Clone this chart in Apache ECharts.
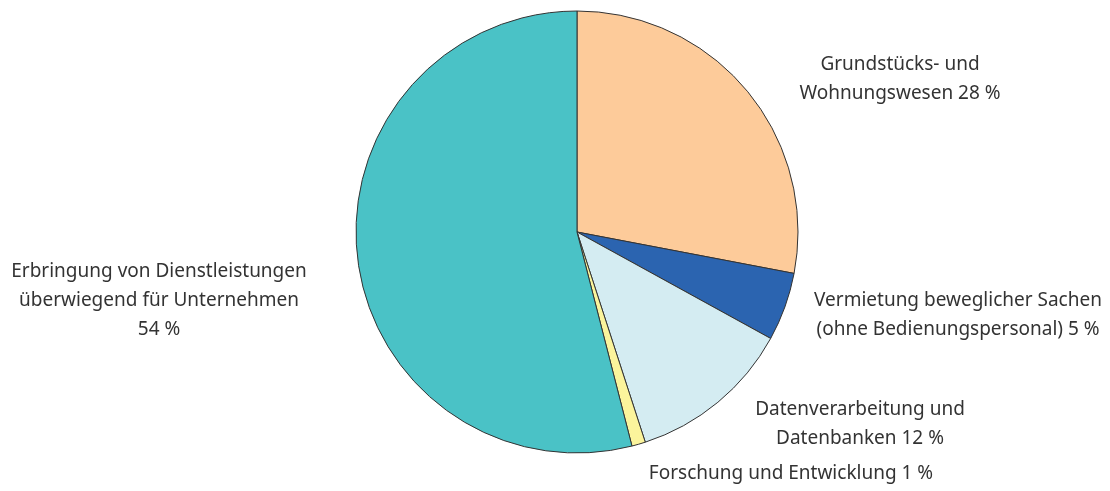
<!DOCTYPE html>
<html>
<head>
<meta charset="utf-8">
<script src="https://cdn.jsdelivr.net/npm/echarts@6/dist/echarts.min.js"></script>
<style>
  html, body { margin: 0; padding: 0; background: #fff; }
  #myChart { width: 1110px; height: 491px; }
</style>
</head>
<body>
<div id="myChart"></div>
<script>
// Anteile in Prozent, im Uhrzeigersinn ab 12 Uhr
var categories = [
  "Grundstücks- und\nWohnungswesen",
  "Vermietung beweglicher Sachen\n(ohne Bedienungspersonal)",
  "Datenverarbeitung und\nDatenbanken",
  "Forschung und Entwicklung",
  "Erbringung von Dienstleistungen\nüberwiegend für Unternehmen\n"
];
var values = [28, 5, 12, 1, 54];

var colors = ["#fdcb9a", "#2b64b0", "#d4ecf2", "#fbf49c", "#4ac2c6"];
// Labelpositionen (Mittelpunkt des Textblocks)
var labelPos = [[900, 79], [958, 315], [860, 424], [791, 474], [159, 301]];

var myChart = echarts.init(document.getElementById("myChart"));

var data = values.map(function (v, i) {
  return { name: categories[i], value: v, itemStyle: { color: colors[i] } };
});

var option = {
  animation: false,
  series: [
    {
      type: "pie",
      center: [577, 232],
      radius: 221,
      startAngle: 90,
      clockwise: true,
      data: data,
      itemStyle: { borderColor: "#333", borderWidth: 1 },
      emphasis: { disabled: true },
      label: {
        show: true,
        formatter: function (p) {
          var sep = p.dataIndex === 4 ? "" : " ";
          return p.name + sep + p.value + " %";
        },
        color: "#333",
        fontFamily: "Noto Sans",
        fontSize: 19,
        lineHeight: 29,
        align: "center",
        overflow: "none"
      },
      labelLine: { show: false },
      labelLayout: function (params) {
        var pos = labelPos[params.dataIndex];
        return { x: pos[0], y: pos[1], align: "center", verticalAlign: "middle" };
      }
    }
  ]
};

myChart.setOption(option);
</script>
</body>
</html>
